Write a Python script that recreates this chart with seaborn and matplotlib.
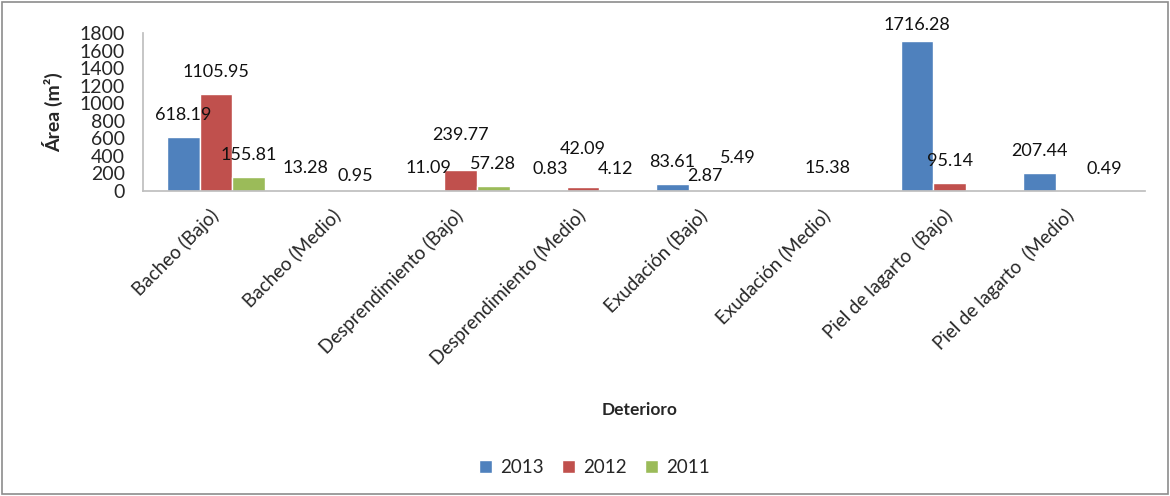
import numpy as np
import pandas as pd
import matplotlib
matplotlib.use("Agg")
import matplotlib.pyplot as plt
from matplotlib.patches import Rectangle
from matplotlib.transforms import ScaledTranslation
import seaborn as sns

categories = [
    "Bacheo (Bajo)", "Bacheo (Medio)", "Desprendimiento (Bajo)",
    "Desprendimiento (Medio)", "Exudación (Bajo)", "Exudación (Medio)",
    "Piel de lagarto  (Bajo)", "Piel de lagarto  (Medio)",
]
years = ["2013", "2012", "2011"]
area_2013 = [618.19, 13.28, 11.09, 0.83, 83.61, np.nan, 1716.28, 207.44]
area_2012 = [1105.95, 0.95, 239.77, 42.09, 2.87, 15.38, 95.14, np.nan]
area_2011 = [155.81, np.nan, 57.28, 4.12, 5.49, np.nan, np.nan, 0.49]
yticks = [0, 200, 400, 600, 800, 1000, 1200, 1400, 1600, 1800]

colors = ["#4F81BD", "#C0504D", "#9BBB59"]

# value labels sit this many pixels above the bar top; a few are nudged
# (dx, dy in pixels) so that neighbouring labels do not collide
LABEL_GAP = 22
LABEL_NUDGE = {
    ("Bacheo (Medio)", "2012"): (17, -7),
    ("Desprendimiento (Bajo)", "2012"): (0, 13),
    ("Desprendimiento (Medio)", "2012"): (0, 16),
    ("Exudación (Bajo)", "2012"): (0, -7),
    ("Exudación (Bajo)", "2011"): (0, 10),
    ("Piel de lagarto  (Bajo)", "2013"): (0, -6),
}

rows = []
for year, vals in zip(years, [area_2013, area_2012, area_2011]):
    for cat, v in zip(categories, vals):
        rows.append({"Deterioro": cat, "Año": year, "Area": v})
df = pd.DataFrame(rows)

sns.set_theme(style="white")
plt.rcParams["font.family"] = ["Lato", "DejaVu Sans"]

fig = plt.figure(figsize=(11.7, 4.96), dpi=100)
ax = fig.add_axes([0.122, 0.615, 0.857, 0.318])

sns.barplot(data=df, x="Deterioro", y="Area", hue="Año", order=categories,
            hue_order=years, palette=colors, saturation=1, width=0.8,
            ax=ax, legend=True)

# value labels, one per drawn bar, taken from the bar heights
for year, cont in zip(years, ax.containers):
    for bar in cont:
        h = bar.get_height()
        if not np.isfinite(h):
            continue
        xc = bar.get_x() + bar.get_width() / 2
        cat = categories[int(round(xc))]
        dx, dy = LABEL_NUDGE.get((cat, year), (0, 0))
        ax.annotate(f"{h:.2f}", (xc, h), xytext=(dx, LABEL_GAP + dy),
                    textcoords="offset pixels", ha="center", va="center",
                    fontsize=13, color="#111111", annotation_clip=False)

ax.set_ylim(0, 1800)
ax.set_xlim(-0.6, 7.6)
ax.set_yticks(yticks)
ax.set_yticklabels([str(t) for t in yticks], fontsize=14)
ax.tick_params(axis="y", length=0, pad=13)
ax.tick_params(axis="x", length=0, pad=11)
ax.set_xticks(range(len(categories)))
ax.set_xticklabels(categories, rotation=45, ha="right",
                   rotation_mode="anchor", fontsize=13.5)
shift = ScaledTranslation(-0.07, 0, fig.dpi_scale_trans)
for lbl in ax.get_xticklabels():
    lbl.set_transform(lbl.get_transform() + shift)

for side in ["top", "right"]:
    ax.spines[side].set_visible(False)
ax.spines["left"].set_color("#BFBFBF")
ax.spines["bottom"].set_color("#BFBFBF")

ax.set_ylabel("Área (m²)", fontsize=14, fontweight="bold", labelpad=12)
ax.set_xlabel("")
fig.text(0.547, 0.173, "Deterioro", ha="center", va="center",
         fontsize=12.5, fontweight="bold")

handles, labels = ax.get_legend_handles_labels()
ax.legend_.remove()
fig.legend(handles, labels, loc="center", bbox_to_anchor=(0.508, 0.058),
           ncol=3, frameon=False, fontsize=13.5, handlelength=0.7,
           handleheight=0.7, columnspacing=1.0, handletextpad=0.4)

fig.patches.append(Rectangle((0.002, 0.004), 0.996, 0.992, transform=fig.transFigure,
                             fill=False, edgecolor="#8C8C8C", linewidth=1.2))

fig.savefig("out.png", dpi=100, facecolor="white")
